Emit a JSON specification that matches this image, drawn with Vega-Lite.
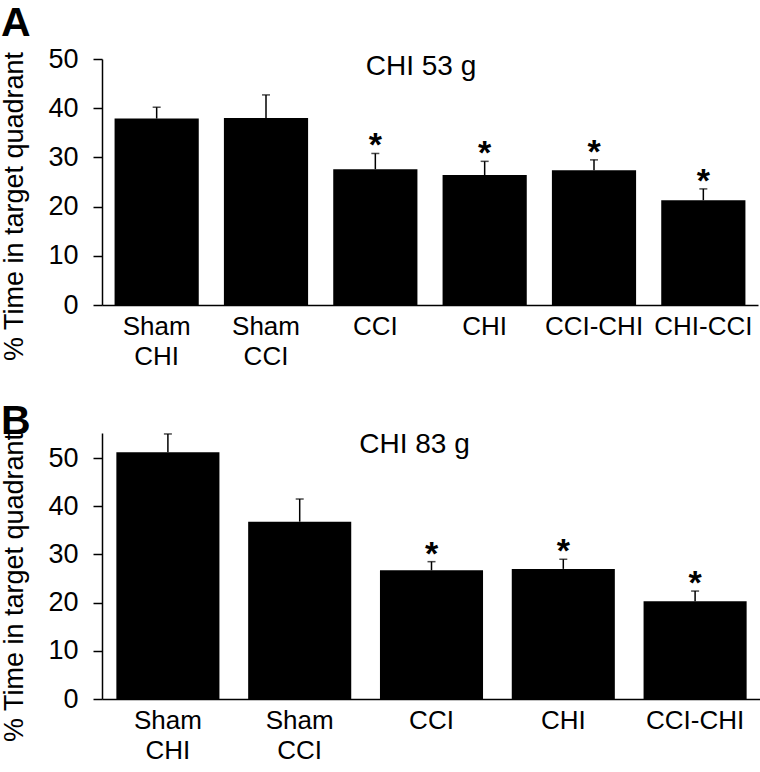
{
  "$schema": "https://vega.github.io/schema/vega-lite/v6.json",
  "padding": {"left": 0, "top": 3, "right": 0, "bottom": 0},
  "background": "white",
  "spacing": 31,
  "config": {
    "font": "Liberation Sans",
    "view": {"stroke": null},
    "axis": {"domainColor": "black", "domainWidth": 1.5, "tickColor": "black", "tickWidth": 1.5, "labelColor": "black", "titleColor": "black", "grid": false, "labelFont": "Liberation Sans", "titleFont": "Liberation Sans", "titleFontWeight": "normal"},
    "title": {"font": "Liberation Sans", "color": "black"}
  },
  "vconcat": [
    {
      "title": {"text": "A", "anchor": "start", "frame": "bounds", "fontSize": 41, "fontWeight": "bold", "offset": 0},
      "width": 656,
      "height": 246,
      "data": {"values": [
        {"group": "Sham CHI", "value": 37.9, "upper": 40.2, "star": ""},
        {"group": "Sham CCI", "value": 38.0, "upper": 42.7, "star": ""},
        {"group": "CCI", "value": 27.6, "upper": 30.8, "star": "*"},
        {"group": "CHI", "value": 26.4, "upper": 29.2, "star": "*"},
        {"group": "CCI-CHI", "value": 27.4, "upper": 29.5, "star": "*"},
        {"group": "CHI-CCI", "value": 21.3, "upper": 23.6, "star": "*"}
      ]},
      "layer": [
        {
          "mark": {"type": "bar", "color": "black"},
          "encoding": {
            "x": {"field": "group", "type": "nominal", "sort": null, "scale": {"paddingInner": 0.23, "paddingOuter": 0.115},
              "axis": {"title": null, "ticks": false, "labelAngle": 0, "labelFontSize": 26, "labelPadding": 8, "labelLineHeight": 30, "labelOverlap": false, "labelExpr": "indexof(datum.label, 'Sham') == 0 ? split(datum.label, ' ') : datum.label"}},
            "y": {"field": "value", "type": "quantitative", "scale": {"domain": [0, 50], "nice": false},
              "axis": {"values": [0, 10, 20, 30, 40, 50], "tickSize": 9, "labelPadding": 15, "labelFontSize": 27, "title": "% Time in target quadrant", "titleFontSize": 27, "titlePadding": 19, "titleY": 147}}
          }
        },
        {
          "mark": {"type": "rule", "color": "black", "strokeWidth": 1.5},
          "encoding": {
            "x": {"field": "group", "type": "nominal", "sort": null},
            "y": {"field": "value", "type": "quantitative"},
            "y2": {"field": "upper"}
          }
        },
        {
          "mark": {"type": "tick", "color": "black", "thickness": 1.5, "size": 8},
          "encoding": {
            "x": {"field": "group", "type": "nominal", "sort": null},
            "y": {"field": "upper", "type": "quantitative"}
          }
        },
        {
          "mark": {"type": "text", "fontSize": 34, "fontWeight": "bold", "dy": 3, "baseline": "alphabetic", "color": "black"},
          "encoding": {
            "x": {"field": "group", "type": "nominal", "sort": null},
            "y": {"field": "upper", "type": "quantitative"},
            "text": {"field": "star"}
          }
        },
        {
          "data": {"values": [{"label": "CHI 53 g", "pos": 46.7}]},
          "mark": {"type": "text", "fontSize": 28, "dx": -9, "baseline": "alphabetic", "color": "black"},
          "encoding": {
            "y": {"field": "pos", "type": "quantitative"},
            "text": {"field": "label"}
          }
        }
      ]
    },
    {
      "title": {"text": "B", "anchor": "start", "frame": "bounds", "fontSize": 41, "fontWeight": "bold", "offset": -33},
      "width": 659,
      "height": 266,
      "data": {"values": [
        {"group": "Sham CHI", "value": 51.2, "upper": 55.0, "star": ""},
        {"group": "Sham CCI", "value": 36.8, "upper": 41.5, "star": ""},
        {"group": "CCI", "value": 26.7, "upper": 28.5, "star": "*"},
        {"group": "CHI", "value": 27.0, "upper": 29.0, "star": "*"},
        {"group": "CCI-CHI", "value": 20.3, "upper": 22.4, "star": "*"}
      ]},
      "layer": [
        {
          "mark": {"type": "bar", "color": "black"},
          "encoding": {
            "x": {"field": "group", "type": "nominal", "sort": null, "scale": {"paddingInner": 0.218, "paddingOuter": 0.109},
              "axis": {"title": null, "ticks": false, "labelAngle": 0, "labelFontSize": 26, "labelPadding": 8, "labelLineHeight": 30, "labelOverlap": false, "labelExpr": "indexof(datum.label, 'Sham') == 0 ? split(datum.label, ' ') : datum.label"}},
            "y": {"field": "value", "type": "quantitative", "scale": {"domain": [0, 55.2], "nice": false},
              "axis": {"values": [0, 10, 20, 30, 40, 50], "tickSize": 9, "labelPadding": 15, "labelFontSize": 27, "title": "% Time in target quadrant", "titleFontSize": 27, "titlePadding": 19, "titleY": 154}}
          }
        },
        {
          "mark": {"type": "rule", "color": "black", "strokeWidth": 1.5},
          "encoding": {
            "x": {"field": "group", "type": "nominal", "sort": null},
            "y": {"field": "value", "type": "quantitative"},
            "y2": {"field": "upper"}
          }
        },
        {
          "mark": {"type": "tick", "color": "black", "thickness": 1.5, "size": 8},
          "encoding": {
            "x": {"field": "group", "type": "nominal", "sort": null},
            "y": {"field": "upper", "type": "quantitative"}
          }
        },
        {
          "mark": {"type": "text", "fontSize": 34, "fontWeight": "bold", "dy": 3, "baseline": "alphabetic", "color": "black"},
          "encoding": {
            "x": {"field": "group", "type": "nominal", "sort": null},
            "y": {"field": "upper", "type": "quantitative"},
            "text": {"field": "star"}
          }
        },
        {
          "data": {"values": [{"label": "CHI 83 g", "pos": 51.0}]},
          "mark": {"type": "text", "fontSize": 28, "dx": -17, "baseline": "alphabetic", "color": "black"},
          "encoding": {
            "y": {"field": "pos", "type": "quantitative"},
            "text": {"field": "label"}
          }
        }
      ]
    }
  ]
}
